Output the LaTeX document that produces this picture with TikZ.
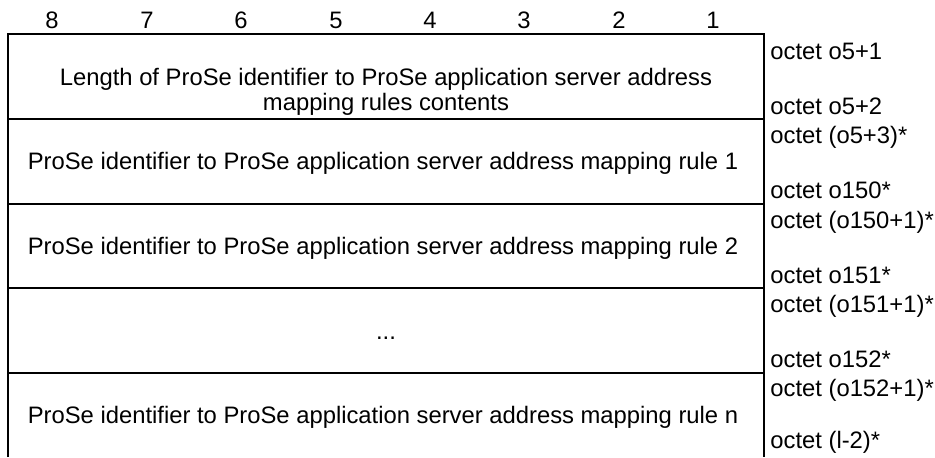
\documentclass[tikz,border=0pt]{standalone}
\usepackage{fontspec}
\setmainfont{Liberation Sans}
\begin{document}
\begin{tikzpicture}[x=0.5pt,y=-0.5pt,
  frame/.style={line width=1pt},
  txt/.style={font=\fontsize{11.9}{14}\selectfont, inner sep=0pt},
  ctr/.style={txt, anchor=base},
  lbl/.style={txt, anchor=base west}]
\useasboundingbox (0,0) rectangle (935,457);
% bit numbers
\foreach \n/\x in {8/52,7/147,6/241,5/336,4/430,3/524,2/619,1/713}
  \node[ctr] (bit\n) at (\x,28) {\n};
% frame
\coordinate (tl) at (8,34);
\coordinate (tr) at (764,34);
\coordinate (bl) at (8,457);
\coordinate (br) at (764,457);
\draw[frame] (bl) -- (tl) -- (tr) -- (br);
\foreach \i/\y in {1/118.75,2/203.5,3/288.25,4/373}{
  \coordinate (sl\i) at (8,\y);
  \coordinate (sr\i) at (764,\y);
  \draw[frame] (sl\i) -- (sr\i);
}
% row contents
\node[ctr] (r1a) at (386,85) {Length of ProSe identifier to ProSe application server address};
\node[ctr] (r1b) at (386,110) {mapping rules contents};
\node[ctr] (r2) at (383,169) {ProSe identifier to ProSe application server address mapping rule 1};
\node[ctr] (r3) at (383,254) {ProSe identifier to ProSe application server address mapping rule 2};
\node[ctr] (r4) at (386,339) {...};
\node[ctr] (r5) at (383,423) {ProSe identifier to ProSe application server address mapping rule n};
% octet labels
\node[lbl] (o1a) at (770,59) {octet o5+1};
\node[lbl] (o1b) at (770,114.5) {octet o5+2};
\node[lbl] (o2a) at (770,143.5) {octet (o5+3)*};
\node[lbl] (o2b) at (770,198.5) {octet o150*};
\node[lbl] (o3a) at (770,228) {octet (o150+1)*};
\node[lbl] (o3b) at (770,283) {octet o151*};
\node[lbl] (o4a) at (770,312.5) {octet (o151+1)*};
\node[lbl] (o4b) at (770,367.5) {octet o152*};
\node[lbl] (o5a) at (770,396) {octet (o152+1)*};
\node[lbl] (o5b) at (770,448) {octet (l-2)*};
\end{tikzpicture}
\end{document}
